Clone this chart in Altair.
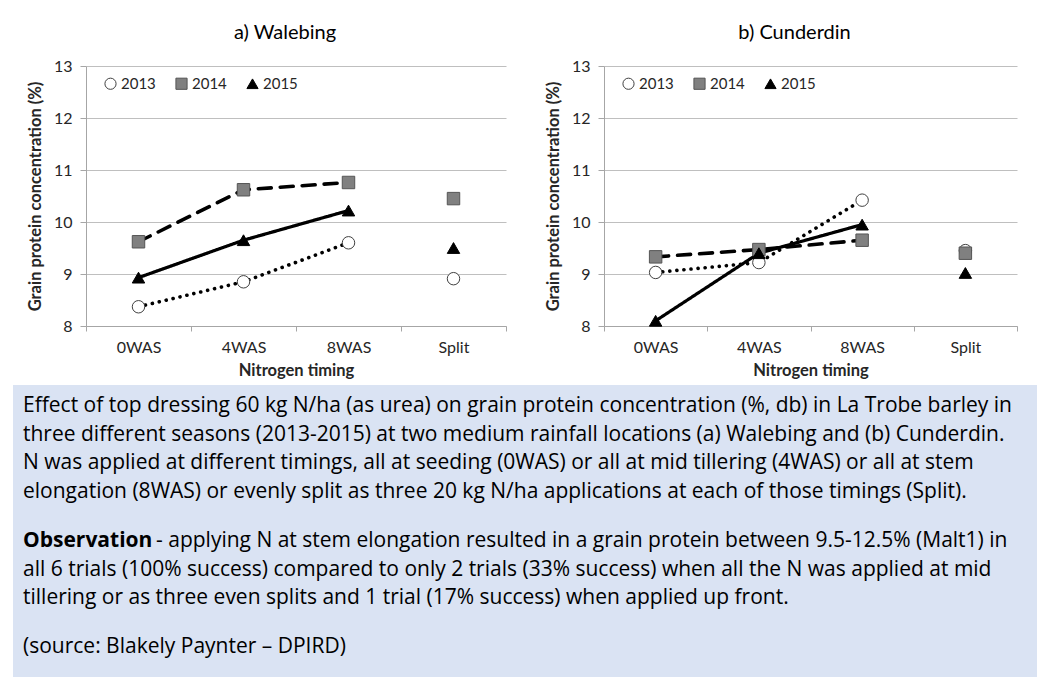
import altair as alt
import pandas as pd

timings = ["0WAS", "4WAS", "8WAS", "Split"]
years = ["2013", "2014", "2015"]

walebing_2013 = [8.37, 8.85, 9.60, 8.91]
walebing_2014 = [9.62, 10.62, 10.76, 10.45]
walebing_2015 = [8.93, 9.65, 10.22, 9.50]

cunderdin_2013 = [9.03, 9.22, 10.42, 9.45]
cunderdin_2014 = [9.33, 9.47, 9.65, 9.40]
cunderdin_2015 = [8.10, 9.40, 9.95, 9.02]

y_ticks = [8, 9, 10, 11, 12, 13]

caption_lines = [
    "Effect of top dressing 60 kg N/ha (as urea) on grain protein concentration (%, db) in La Trobe barley in",
    "three different seasons (2013-2015) at two medium rainfall locations (a) Walebing and (b) Cunderdin.",
    "N was applied at different timings, all at seeding (0WAS) or all at mid tillering (4WAS) or all at stem",
    "elongation (8WAS) or evenly split as three 20 kg N/ha applications at each of those timings (Split).",
    "- applying N at stem elongation resulted in a grain protein between 9.5-12.5% (Malt1) in",
    "all 6 trials (100% success) compared to only 2 trials (33% success) when all the N was applied at mid",
    "tillering or as three even splits and 1 trial (17% success) when applied up front.",
    "(source: Blakely Paynter \u2013 DPIRD)",
]
caption_paragraph = [0, 0, 0, 0, 1, 1, 1, 2]
bold_word = "Observation"

FONT = "Lato"
CAP_FONT = "Open Sans"
CAP_SIZE = 21

line_dash = {"2013": [0.1, 7], "2014": [13, 9], "2015": [1, 0]}
line_width = {"2013": 3.6, "2014": 3.6, "2015": 3.2}

# caption box geometry relative to the left plot's origin (layout only)
BOX_LEFT = -73
BOX_W = 1024
BOX_H = 292


def panel(title, series, width, title_dx):
    rows = []
    for yr, vals in zip(years, series):
        for i, (t, v) in enumerate(zip(timings, vals)):
            rows.append({"timing": t, "year": yr, "value": v, "order": i})
    df = pd.DataFrame(rows)

    x = alt.X(
        "timing:N",
        sort=timings,
        scale=alt.Scale(domain=timings, paddingInner=0, paddingOuter=0),
        axis=alt.Axis(
            title="Nitrogen timing",
            labelAngle=0,
            tickBand="extent",
            tickSize=5,
            labelPadding=8,
            titlePadding=7,
            grid=False,
        ),
    )
    y = alt.Y(
        "value:Q",
        scale=alt.Scale(domain=[8, 13], nice=False, zero=False),
        axis=alt.Axis(
            values=y_ticks,
            title="Grain protein concentration  (%)",
            tickSize=6,
            labelPadding=8,
            titlePadding=10,
            grid=True,
        ),
    )
    base = alt.Chart(df)
    layers = []
    for yr in years:
        layers.append(
            base.transform_filter((alt.datum.timing != "Split") & (alt.datum.year == yr))
            .mark_line(
                color="black",
                strokeCap="round",
                strokeDash=line_dash[yr],
                strokeWidth=line_width[yr],
            )
            .encode(x=x, y=y, order="order:Q")
        )
    leg = alt.Legend(
        orient="none",
        legendX=17,
        legendY=10,
        direction="horizontal",
        title=None,
        labelFont=FONT,
        labelFontSize=15,
        labelColor="#262626",
        symbolSize=125,
        symbolStrokeWidth=1,
        columnPadding=17,
        labelOffset=3,
        padding=0,
    )
    points = base.mark_point(filled=True, opacity=1, strokeWidth=1, size=155).encode(
        x=x,
        y=y,
        shape=alt.Shape(
            "year:N",
            scale=alt.Scale(domain=years, range=["circle", "square", "triangle-up"]),
            legend=leg,
        ),
        fill=alt.Fill(
            "year:N",
            scale=alt.Scale(domain=years, range=["#ffffff", "#808080", "#000000"]),
            legend=leg,
        ),
        stroke=alt.Stroke(
            "year:N",
            scale=alt.Scale(domain=years, range=["#404040", "#555555", "#000000"]),
            legend=leg,
        ),
    )
    layers.append(points)
    return alt.layer(*layers).properties(
        width=width,
        height=260,
        title=alt.TitleParams(title, dx=title_dx, anchor="middle", offset=15),
    )


left = panel("a) Walebing", [walebing_2013, walebing_2014, walebing_2015], 420, -11)
right = panel("b) Cunderdin", [cunderdin_2013, cunderdin_2014, cunderdin_2015], 413, -16)

top = alt.hconcat(left, right, spacing=38).resolve_scale(
    shape="independent", fill="independent", stroke="independent"
).resolve_legend(shape="independent", fill="independent", stroke="independent")

cap = pd.DataFrame({"text": caption_lines, "para": caption_paragraph})
cap["line"] = range(len(cap))
cap["ypos"] = 21 + cap["line"] * 28.7 + cap["para"] * 20
bold_df = pd.DataFrame({"text": [bold_word], "ypos": [cap.loc[4, "ypos"]]})

ys = alt.Y("ypos:Q", scale=alt.Scale(domain=[0, BOX_H], range=[0, BOX_H]), axis=None)
normal_rows = cap.drop(index=4)
obs_row = cap.loc[[4]]

box = alt.Chart(pd.DataFrame({"b": [0]})).mark_rect(color="#dae3f3").encode(
    x=alt.value(BOX_LEFT), x2=alt.value(BOX_LEFT + BOX_W), y=alt.value(0), y2=alt.value(BOX_H)
)
t_normal = alt.Chart(normal_rows).mark_text(
    align="left", baseline="middle", font=CAP_FONT, fontSize=CAP_SIZE, color="#000000"
).encode(x=alt.value(BOX_LEFT + 10), y=ys, text="text:N")
t_obs_bold = alt.Chart(bold_df).mark_text(
    align="left", baseline="middle", font=CAP_FONT, fontSize=CAP_SIZE, fontWeight="bold", color="#000000"
).encode(x=alt.value(BOX_LEFT + 10), y=ys, text="text:N")
t_obs_rest = alt.Chart(obs_row).mark_text(
    align="left", baseline="middle", font=CAP_FONT, fontSize=CAP_SIZE, color="#000000", dx=133
).encode(x=alt.value(BOX_LEFT + 10), y=ys, text="text:N")

caption = (box + t_normal + t_obs_bold + t_obs_rest).properties(
    width=BOX_W + BOX_LEFT, height=BOX_H
)

chart = (
    alt.vconcat(top, caption, spacing=6)
    .properties(padding={"left": 13, "top": 23, "right": 5, "bottom": 5}, background="white")
    .configure_view(stroke=None)
    .configure_axis(
        labelFont=FONT,
        labelFontSize=16,
        labelColor="#262626",
        titleFont=FONT,
        titleFontSize=16.5,
        titleFontWeight="bold",
        titleColor="#262626",
        domainColor="#a6a6a6",
        tickColor="#a6a6a6",
        gridColor="#bfbfbf",
        domainWidth=1,
    )
    .configure_title(font=FONT, fontSize=20, fontWeight="normal", color="#000000")
)

chart.save("out.html", embed_options={"renderer": "svg", "actions": False})
